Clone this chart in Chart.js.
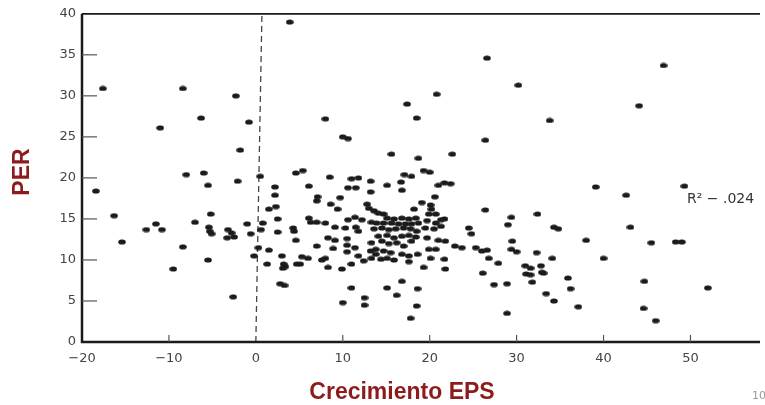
<!DOCTYPE html>
<html>
<head>
<meta charset="utf-8">
<script src="https://cdn.jsdelivr.net/npm/chart.js@4.4.1/dist/chart.umd.min.js"></script>
<style>
  html, body { margin: 0; background: #fff; }
  #wrap { width: 765px; height: 405px; }
</style>
</head>
<body>
<div id="wrap"><canvas id="chart" width="765" height="405"></canvas></div>
<script>
// EPS growth (%) vs PER, one entry per company.
const epsGrowth = [
  3.9, -17.6, -8.4, -2.3, -6.3, -0.8, -11.0, -1.8, -8.0, -6.0,
  -5.5, -2.1, 0.5, 2.2, 2.2, 4.6, -18.4, -16.3, -15.4, -12.6,
  -11.5, -10.8, -8.4, -9.5, -7.0, -5.2, -5.4, -5.3, -5.1, -5.5,
  -3.2, -2.8, -3.3, -2.5, -2.6, -1.0, -0.6, -0.2, 0.3, 0.8,
  0.6, 1.5, 1.3, 1.5, 2.3, 2.5, 2.5, 3.0, 3.2, 3.1,
  3.4, 2.8, 3.3, 4.3, 4.6, 4.7, 5.4, 8.5, 11.0, 11.8,
  13.2, 6.1, 10.6, 11.5, 13.2, 7.1, 7.0, 9.7, 8.6, 9.4,
  12.8, 13.0, 13.6, 6.1, 6.3, 7.0, 8.0, 10.6, 11.4, 12.2,
  13.3, 13.9, 4.4, 9.1, 10.3, 11.5, 11.8, 8.3, 9.1, 10.5,
  7.0, 8.9, 10.5, 11.4, 10.5, 5.3, 6.0, 7.6, 8.0, 11.8,
  12.4, 13.2, 13.8, 5.1, 8.3, 9.9, 11.0, 11.0, 10.0, 12.5,
  12.5, 10.0, 10.6, 26.6, 30.2, 20.8, 17.4, 18.5, 8.0, 26.4,
  15.6, 18.7, 22.6, 15.1, 16.7, 16.8, 17.1, 17.9, 19.3, 20.0,
  21.0, 21.7, 22.4, 20.6, 19.1, 18.2, 20.1, 20.2, 19.9, 20.7,
  21.3, 21.7, 26.4, 14.1, 14.7, 15.1, 15.9, 16.8, 17.6, 18.4,
  14.7, 15.6, 16.4, 17.2, 17.9, 18.7, 13.6, 14.5, 15.3, 16.1,
  17.0, 17.8, 18.5, 14.1, 15.1, 15.9, 16.8, 17.6, 18.4, 13.3,
  14.5, 15.3, 16.2, 17.0, 17.9, 13.8, 14.7, 15.5, 16.8, 17.6,
  13.3, 14.4, 15.1, 15.9, 17.6, 19.7, 20.7, 21.3, 19.5, 20.5,
  19.7, 21.0, 21.8, 19.9, 20.7, 20.1, 18.6, 21.7, 19.3, 21.8,
  22.9, 23.7, 24.5, 24.8, 25.3, 26.0, 26.6, 26.8, 26.1, 27.4,
  16.8, 15.1, 16.2, 18.6, 18.5, 17.8, 29.4, 29.0, 29.5, 29.4,
  30.0, 27.9, 28.9, 28.9, 31.0, 31.1, 39.1, 32.4, 34.3, 34.8,
  38.0, 32.3, 34.1, 40.0, 31.6, 32.8, 32.9, 33.1, 31.6, 31.8,
  35.9, 36.2, 33.4, 34.3, 37.1, 42.6, 49.3, 43.1, 45.5, 48.3,
  49.0, 44.7, 52.0, 44.6, 46.0, 33.8, 44.1, 46.9
];
const per = [
  39.0, 30.9, 30.9, 30.0, 27.3, 26.8, 26.1, 23.4, 20.4, 20.6,
  19.1, 19.6, 20.2, 18.9, 17.9, 20.6, 18.4, 15.4, 12.2, 13.7,
  14.4, 13.7, 11.6, 8.9, 14.6, 15.6, 14.0, 13.5, 13.2, 10.0,
  13.7, 13.3, 12.7, 12.8, 5.5, 14.4, 13.2, 10.5, 11.5, 14.5,
  13.7, 11.2, 9.5, 16.2, 16.5, 15.0, 13.4, 10.5, 9.5, 9.0,
  9.2, 7.1, 6.9, 13.9, 12.4, 9.5, 20.9, 20.1, 19.9, 20.0,
  19.6, 19.0, 18.8, 18.8, 18.3, 17.7, 17.2, 17.6, 16.8, 16.2,
  16.8, 16.3, 16.0, 15.1, 14.6, 14.6, 14.5, 14.9, 15.2, 14.9,
  14.6, 14.5, 13.5, 14.0, 13.9, 14.0, 13.5, 12.7, 12.4, 12.6,
  11.7, 11.4, 11.8, 11.5, 11.0, 10.4, 10.2, 10.0, 10.2, 10.5,
  9.9, 11.1, 10.7, 9.5, 9.1, 8.9, 9.5, 6.6, 4.8, 5.4,
  4.5, 25.0, 24.8, 34.6, 31.3, 30.2, 29.0, 27.3, 27.2, 24.6,
  22.9, 22.4, 22.9, 19.1, 19.5, 18.5, 20.4, 20.2, 20.9, 20.7,
  19.1, 19.4, 19.3, 17.7, 17.0, 16.2, 16.7, 16.2, 15.6, 15.6,
  14.9, 15.0, 16.1, 15.7, 15.6, 15.1, 15.0, 15.1, 15.0, 15.1,
  14.5, 14.5, 14.4, 14.4, 14.4, 14.5, 13.8, 13.9, 13.7, 13.8,
  13.9, 13.8, 13.5, 12.9, 13.0, 12.7, 12.9, 13.0, 12.8, 12.1,
  12.3, 12.0, 12.1, 11.7, 12.3, 11.3, 11.1, 10.9, 10.7, 10.5,
  10.2, 10.1, 10.2, 10.0, 9.8, 14.8, 14.5, 14.1, 13.9, 13.8,
  12.7, 12.4, 12.3, 11.3, 11.3, 10.2, 10.7, 10.1, 9.1, 8.9,
  11.7, 11.5, 13.9, 13.2, 11.5, 11.1, 11.2, 10.2, 8.4, 7.0,
  7.4, 6.6, 5.7, 6.5, 4.4, 2.9, 15.2, 14.3, 12.3, 11.3,
  11.0, 9.6, 7.1, 3.5, 9.3, 8.3, 18.9, 15.6, 14.0, 13.8,
  12.4, 10.9, 10.2, 10.2, 9.0, 9.3, 8.5, 8.4, 8.2, 7.3,
  7.8, 6.5, 5.9, 5.0, 4.3, 17.9, 19.0, 14.0, 12.1, 12.2,
  12.2, 7.4, 6.6, 4.1, 2.6, 27.0, 28.8, 33.7
];
// Dashed zero-growth marker (slightly slanted in the scan).
const zeroLineX = [0.0, 0.7];
const zeroLineY = [0, 40];

const xTicks = [-20, -10, 0, 10, 20, 30, 40, 50];
const yTicks = [0, 5, 10, 15, 20, 25, 30, 35, 40];
const xTitle = "Crecimiento EPS";
const yTitle = "PER";
const r2Label = "R\u00B2 \u2212 .024";
const pageNo = "10";

// Small flattened dot, like the printed markers.
function dotImage() {
  const c = document.createElement("canvas");
  c.width = 8; c.height = 6;
  const g = c.getContext("2d");
  g.fillStyle = "#1b1b1b";
  g.beginPath();
  g.ellipse(4, 3, 3.8, 2.6, 0, 0, Math.PI * 2);
  g.fill();
  return c;
}

const points = epsGrowth.map((x, i) => ({ x: x, y: per[i] }));
const zeroLine = zeroLineX.map((x, i) => ({ x: x, y: zeroLineY[i] }));

// Axis frame, inward tick marks and the loose labels.
const frame = {
  id: "frame",
  afterDraw(chart) {
    const { ctx, chartArea: a, scales: { x, y } } = chart;
    ctx.save();
    ctx.strokeStyle = "#1a1a1a";
    ctx.lineWidth = 2.5;
    ctx.beginPath();
    ctx.moveTo(a.left, a.top);
    ctx.lineTo(a.left, a.bottom);
    ctx.lineTo(a.right, a.bottom);
    ctx.stroke();
    ctx.lineWidth = 1.8;
    ctx.beginPath();
    ctx.moveTo(a.left, a.top);
    ctx.lineTo(a.right, a.top);
    ctx.stroke();

    ctx.strokeStyle = "#555";
    ctx.lineWidth = 1.2;
    yTicks.slice(1, -1).forEach((v) => {
      const py = y.getPixelForValue(v);
      ctx.beginPath();
      ctx.moveTo(a.left, py);
      ctx.lineTo(a.left + 15, py);
      ctx.stroke();
    });
    xTicks.filter((v) => v !== xTicks[0] && v !== 0).forEach((v) => {
      const px = x.getPixelForValue(v);
      ctx.beginPath();
      ctx.moveTo(px, a.bottom);
      ctx.lineTo(px, a.bottom - 7);
      ctx.stroke();
    });

    ctx.fillStyle = "#8e1b1b";
    ctx.font = "bold 23px 'Liberation Sans', Arial, sans-serif";
    ctx.textAlign = "center";
    ctx.textBaseline = "middle";
    ctx.fillText(xTitle, 402, 393);
    ctx.save();
    ctx.translate(23, 172);
    ctx.rotate(-Math.PI / 2);
    ctx.font = "bold 23px 'Liberation Sans', Arial, sans-serif";
    ctx.fillText(yTitle, 0, 0);
    ctx.restore();

    ctx.fillStyle = "#333";
    ctx.font = "14px 'DejaVu Sans', sans-serif";
    ctx.textAlign = "left";
    ctx.fillText(r2Label, 687, 199);
    ctx.fillStyle = "#999";
    ctx.font = "11px 'DejaVu Sans', sans-serif";
    ctx.fillText(pageNo, 752, 396);
    ctx.restore();
  }
};

const tickFont = { family: "'DejaVu Sans', sans-serif", size: 13 };

new Chart(document.getElementById("chart").getContext("2d"), {
  type: "scatter",
  data: {
    datasets: [
      {
        data: points,
        pointStyle: dotImage(),
        pointRadius: 4,
        pointHoverRadius: 4,
      },
      {
        type: "line",
        data: zeroLine,
        borderColor: "#444",
        borderWidth: 1.3,
        borderDash: [6, 4],
        pointRadius: 0,
        fill: false,
      },
    ],
  },
  options: {
    responsive: false,
    animation: false,
    layout: { padding: { top: 13, left: 0, right: 0, bottom: 0 } },
    plugins: { legend: { display: false }, tooltip: { enabled: false } },
    scales: {
      x: {
        type: "linear",
        min: -20,
        max: 58,
        grid: { display: false, drawTicks: false },
        border: { display: false },
        afterBuildTicks: (s) => { s.ticks = xTicks.map((v) => ({ value: v })); },
        afterFit: (s) => { s.height = 63; },
        ticks: {
          autoSkip: false,
          padding: 9,
          color: "#444",
          font: tickFont,
          callback: (v) => String(v).replace("-", "\u2212"),
        },
      },
      y: {
        min: 0,
        max: 40,
        grid: { display: false, drawTicks: false },
        border: { display: false },
        afterBuildTicks: (s) => { s.ticks = yTicks.map((v) => ({ value: v })); },
        afterFit: (s) => { s.width = 82; },
        ticks: { autoSkip: false, padding: 6, color: "#444", font: tickFont },
      },
    },
  },
  plugins: [frame],
});
</script>
</body>
</html>
